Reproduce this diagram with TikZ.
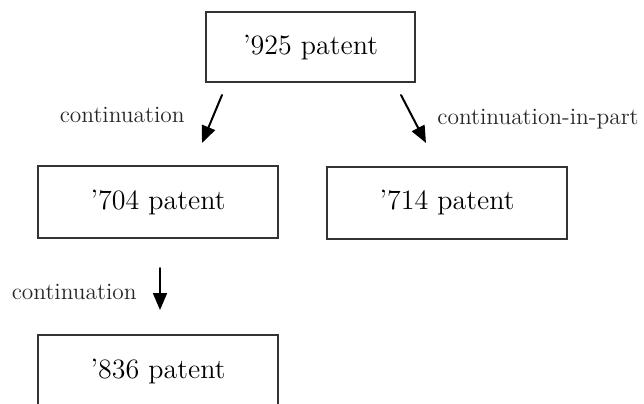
\documentclass[tikz,border=0pt]{standalone}
\usetikzlibrary{arrows.meta}
\begin{document}
\begin{tikzpicture}[x=0.5pt,y=-0.5pt,line cap=round,
% Styles
patent box/.style={draw=black!80,line width=1pt,minimum width=120pt,minimum height=36pt,inner sep=0pt,font=\fontsize{14}{16}\selectfont},
link arrow/.style={line width=1pt,-{Triangle[length=8.5pt,width=7pt]}},
link text/.style={font=\fontsize{11.7}{13}\selectfont,text=black!85,inner sep=0pt}]
\begin{scope}
\clip (0,0) rectangle (644,403);
% Patents
\node[patent box,minimum width=104.5pt,minimum height=35pt] (p925) at (310.5,47) {'925 patent};
\node[patent box] (p704) at (158,202) {'704 patent};
\node[patent box] (p714) at (447,202.5) {'714 patent};
\node[patent box] (p836) at (158,371) {'836 patent};
% Arrow ends
\coordinate (a1) at (222,95); \coordinate (b1) at (202,143);
\coordinate (a2) at (401,95); \coordinate (b2) at (426,143);
\coordinate (a3) at (160,268); \coordinate (b3) at (160,310);
\draw[link arrow] (a1) -- (b1);
\draw[link arrow] (a2) -- (b2);
\draw[link arrow] (a3) -- (b3);
% Labels
\node[link text,anchor=east] (l1) at (185,115) {continuation};
\node[link text,anchor=west] (l2) at (437,119) {continuation-in-part};
\node[link text,anchor=east] (l3) at (137,292) {continuation};
\end{scope}
\end{tikzpicture}
\end{document}
